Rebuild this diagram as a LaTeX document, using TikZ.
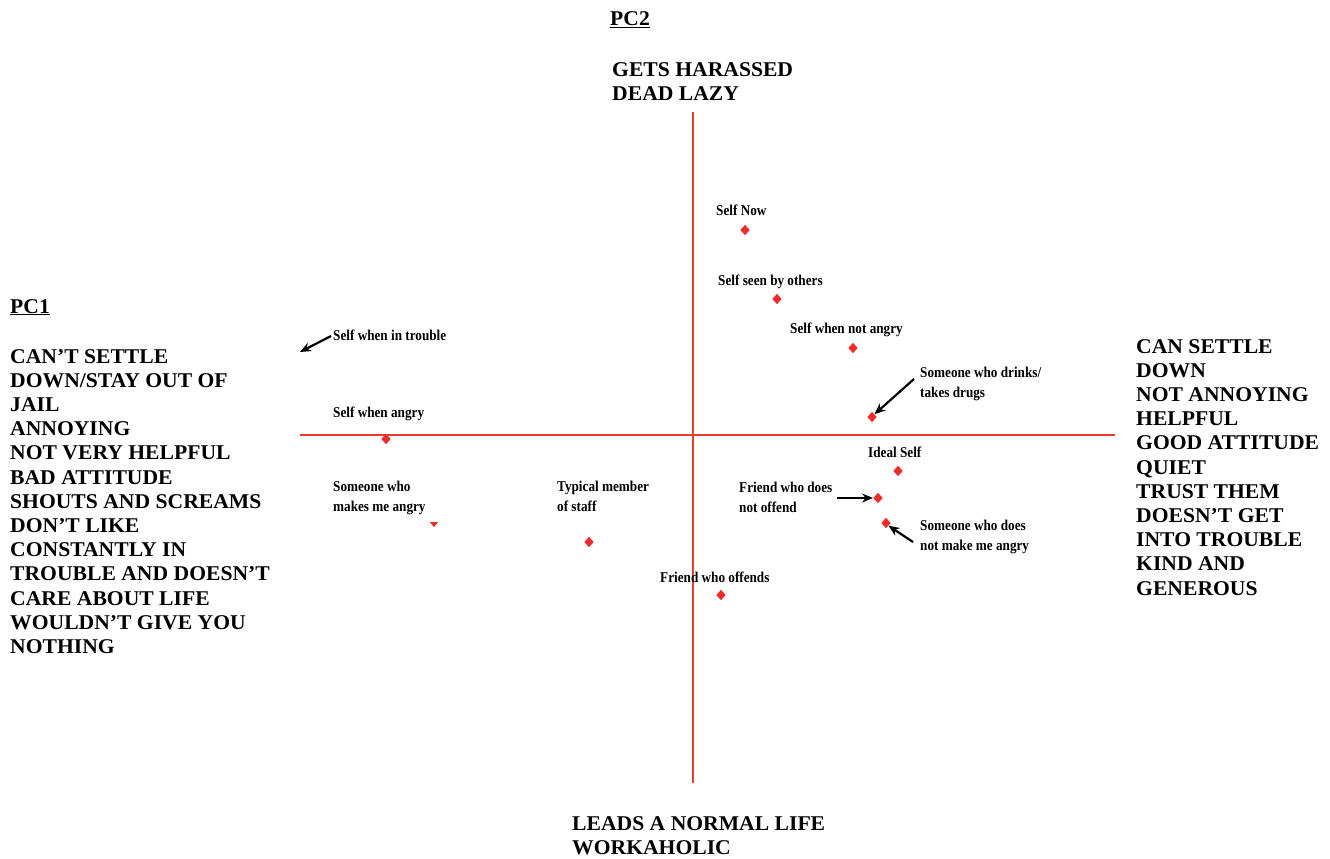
\documentclass[tikz,border=0pt]{standalone}
\usepackage{fontspec}
\setmainfont{Liberation Serif}
\newfontfamily\bigfont{Liberation Serif}[FakeStretch=1.03]
\newfontfamily\labfont{Liberation Serif}[FakeStretch=0.88]
\usetikzlibrary{arrows.meta,shapes.geometric}
\definecolor{axisred}{RGB}{228,62,44}
\definecolor{markred}{RGB}{236,44,40}
\tikzset{
  axis/.style={draw=axisred,line width=1.6pt},
  big/.style={anchor=base west,inner sep=0pt,font=\bigfont\fontsize{21}{24.2}\selectfont\bfseries},
  lab/.style={anchor=base west,inner sep=0pt,font=\labfont\fontsize{15}{20.5}\selectfont\bfseries},
  mk/.style={diamond,fill=markred,inner sep=0pt,minimum width=9.5pt,minimum height=10.5pt},
  mktri/.style={isosceles triangle,shape border rotate=-90,isosceles triangle apex angle=80,fill=markred,inner sep=0pt,minimum width=8pt,minimum height=5pt},
  pointer/.style={draw=black,line width=2.2pt,-{Stealth[length=11pt,width=9pt]}}
}
\newcommand{\lines}[1]{\begin{tabular}[t]{@{}l@{}}#1\end{tabular}}
\begin{document}
\begin{tikzpicture}[x=1pt,y=-1pt]
\useasboundingbox (0,0) rectangle (1330,859);

% principal component axes
\coordinate (hl) at (300,435);
\coordinate (hr) at (1115,435);
\coordinate (vt) at (693,112);
\coordinate (vb) at (693,783);
\draw[axis] (hl) -- (hr);
\draw[axis] (vt) -- (vb);

% axis titles and poles
\node[big] (pc2) at (610,26) {\underline{PC2}};
\node[big] (top) at (612,76) {\lines{GETS HARASSED\\DEAD LAZY}};
\node[big] (bottom) at (572,830) {\lines{LEADS A NORMAL LIFE\\WORKAHOLIC}};
\node[big] (pc1) at (10,313) {\underline{PC1}};
\node[big] (left) at (10,363) {\lines{CAN’T SETTLE\\DOWN/STAY OUT OF\\JAIL\\ANNOYING\\NOT VERY HELPFUL\\BAD ATTITUDE\\SHOUTS AND SCREAMS\\DON’T LIKE\\CONSTANTLY IN\\TROUBLE AND DOESN’T\\CARE ABOUT LIFE\\WOULDN’T GIVE YOU\\NOTHING}};
\node[big] (right) at (1136,353) {\lines{CAN SETTLE\\DOWN\\NOT ANNOYING\\HELPFUL\\GOOD ATTITUDE\\QUIET\\TRUST THEM\\DOESN’T GET\\INTO TROUBLE\\KIND AND\\GENEROUS}};

% elements
\node[mk] (selfnow) at (745,230) {};
\node[lab] (selfnowL) at (716,215) {Self Now};

\node[mk] (seen) at (777,299) {};
\node[lab] (seenL) at (718,285) {Self seen by others};

\node[mk] (notangry) at (853,348) {};
\node[lab] (notangryL) at (790,333) {Self when not angry};

\node[mk] (drugs) at (872,417) {};
\node[lab] (drugsL) at (920,377) {\lines{Someone who drinks/\\takes drugs}};
\coordinate (drugsA) at (914,379);
\draw[pointer] (drugsA) -- (drugs.north east);

\node[mk] (ideal) at (898,471) {};
\node[lab] (idealL) at (868,457) {Ideal Self};

\node[mk] (friend) at (878,498) {};
\node[lab] (friendL) at (739,492) {\lines{Friend who does\\not offend}};
\coordinate (friendA) at (837,498);
\draw[pointer] (friendA) -- (friend.west);

\node[mk] (nomake) at (886,523) {};
\node[lab] (nomakeL) at (920,530) {\lines{Someone who does\\not make me angry}};
\coordinate (nomakeA) at (913,542);
\draw[pointer] (nomakeA) -- (nomake.south east);

\node[mk] (offends) at (721,595) {};
\node[lab] (offendsL) at (660,582) {Friend who offends};

\node[mk] (staff) at (589,542) {};
\node[lab] (staffL) at (557,491) {\lines{Typical member\\of staff}};

\node[mktri] (makes) at (434,524) {};
\node[lab] (makesL) at (333,491) {\lines{Someone who\\makes me angry}};

\node[mk] (angry) at (386,439) {};
\node[lab] (angryL) at (333,417) {Self when angry};

\coordinate (trouble) at (300,352);
\node[lab] (troubleL) at (333,340) {Self when in trouble};
\coordinate (troubleA) at (331,336);
\draw[pointer] (troubleA) -- (trouble);
\end{tikzpicture}
\end{document}
